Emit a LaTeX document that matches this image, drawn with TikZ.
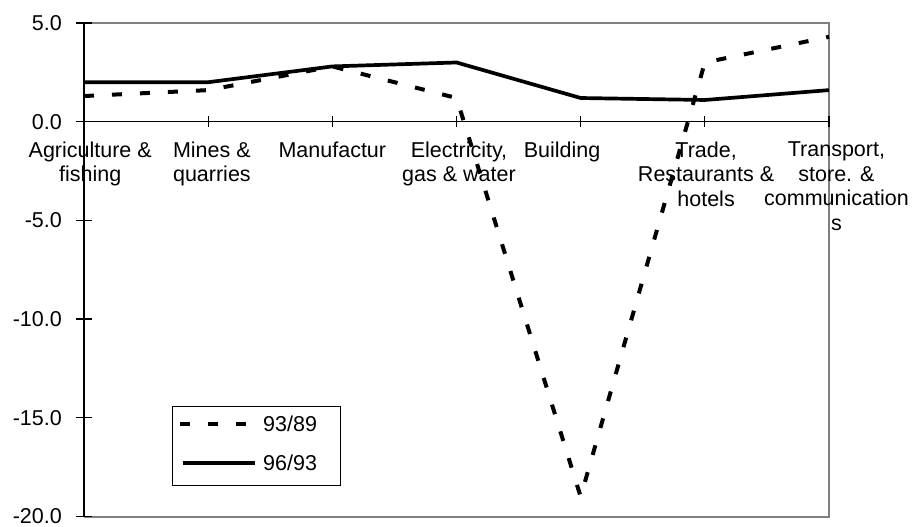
\documentclass[tikz,border=0pt]{standalone}
\usepackage{fontspec}
\setmainfont{Liberation Sans}

\begin{document}
\begin{tikzpicture}[x=124.17pt,y=19.74pt,
  lbl/.style={font=\fontsize{21.5}{24.7}\selectfont,inner sep=0pt},
  catlbl/.style={lbl,align=center,anchor=north},
  ser1/.style={line width=4pt,line join=round,dash pattern=on 10pt off 18pt},
  ser2/.style={line width=3.7pt,line join=round}]
  \useasboundingbox (-84pt,-405.3pt) rectangle (830pt,121.7pt);
  % plot area
  \draw[gray,line width=2pt] (0,5) -- (6,5) -- (6,-20) -- (0,-20);
  \draw[line width=2pt] (0,5) -- (0,-20);
  \draw[line width=1.2pt] (0,0) -- (6,0);
  % value axis
  \foreach \v/\t in {5/5.0,0/0.0,-5/-5.0,-10/-10.0,-15/-15.0,-20/-20.0}{
    \draw[line width=1.2pt] (-8pt,\v) -- (8pt,\v);
    \node[lbl,anchor=east] (val\v) at (-22pt,\v) {\t};
  }
  % category axis
  \foreach \i in {1,...,6}
    \draw[line width=1.2pt] (\i,5.5pt) -- (\i,-5.5pt);
  \node[catlbl] (agri) at (0.05,-1.0) {Agriculture \&\\fishing};
  \node[catlbl] (mines) at (1.03,-1.0) {Mines \&\\quarries};
  \node[catlbl] (manuf) at (2,-1.0) {Manufactur};
  \node[catlbl] (elec) at (3.02,-1.0) {Electricity,\\gas \& water};
  \node[catlbl] (build) at (3.85,-1.0) {Building};
  \node[catlbl] (trade) at (5.01,-1.0) {Trade,\\Restaurants \&\\hotels};
  \node[catlbl] (trans) at (6.06,-1.0) {Transport,\\store. \&\\communication\\s};
  % series
  \draw[ser1] plot coordinates {(0,1.3) (1,1.6) (2,2.8) (3,1.2) (4,-19.0) (5,3.0) (6,4.3)};
  \draw[ser2] plot coordinates {(0,2.0) (1,2.0) (2,2.8) (3,3.0) (4,1.2) (5,1.1) (6,1.6)};
  % legend
  \draw[line width=1pt] (88.7pt,-285pt) rectangle (256pt,-363.6pt);
  \coordinate (k1a) at (96pt,-302.3pt);
  \coordinate (k1b) at (162pt,-302.3pt);
  \coordinate (k2a) at (98.7pt,-341pt);
  \coordinate (k2b) at (171pt,-341pt);
  \draw[ser1] (k1a) -- (k1b);
  \draw[ser2] (k2a) -- (k2b);
  \node[lbl,anchor=west] (k1) at (179pt,-302.3pt) {93/89};
  \node[lbl,anchor=west] (k2) at (179pt,-341pt) {96/93};
\end{tikzpicture}
\end{document}
